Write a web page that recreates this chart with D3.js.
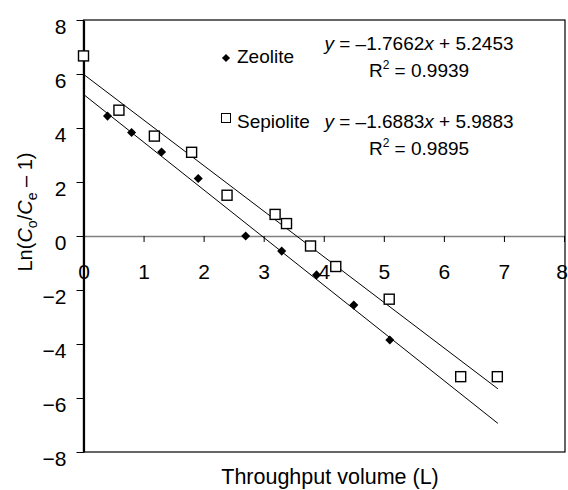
<!DOCTYPE html>
<html lang="en">
<head>
<meta charset="UTF-8">
<title>Throughput</title>
<style>
  * { margin: 0; padding: 0; }
  body { background: #fff; }
  svg text { font-family: Arial, "Liberation Sans", sans-serif; fill: #000; }
</style>
</head>
<body>
<div id="chart-area"></div>
<script src="https://cdn.jsdelivr.net/npm/d3@7"></script>
<script>
  // data
  const zeoliteX = [0.4, 0.8, 1.3, 1.91, 2.7, 3.3, 3.88, 4.5, 5.1]
  const zeoliteY = [4.44, 3.83, 3.11, 2.13, 0.0, -0.56, -1.44, -2.56, -3.85]
  const sepioliteX = [0.0, 0.59, 1.18, 1.8, 2.39, 3.19, 3.38, 3.78, 4.2, 5.09, 6.28, 6.89]
  const sepioliteY = [6.67, 4.66, 3.7, 3.1, 1.51, 0.8, 0.46, -0.37, -1.13, -2.34, -5.21, -5.21]
  const fits = [
    {name: 'Zeolite', slope: -1.7662, icept: 5.2453, r2: '0.9939'},
    {name: 'Sepiolite', slope: -1.6883, icept: 5.9883, r2: '0.9895'}
  ]
  const fitRange = [0, 6.9]
  const xTicks = [0, 1, 2, 3, 4, 5, 6, 7, 8]
  const yTicks = [-8, -6, -4, -2, 0, 2, 4, 6, 8]

  const W = 568, H = 490
  const LEFT = 83.5, RIGHT = 565, TOP = 20, BOTTOM = 452

  const svg = d3.select('#chart-area').append('svg')
    .attr('width', W).attr('height', H)

  const x = d3.scaleLinear().domain([0, 8]).range([LEFT, RIGHT - 1])
  const y = d3.scaleLinear().domain([-8, 8]).range([BOTTOM, TOP])

  // frame
  svg.append('rect')
    .attr('x', LEFT).attr('y', TOP)
    .attr('width', RIGHT - LEFT).attr('height', BOTTOM - TOP)
    .attr('fill', 'none').attr('stroke', '#000').attr('stroke-width', 1.2)

  // x axis through y = 0
  const xAxis = svg.append('g')
    .attr('transform', `translate(0, ${y(0)})`)
    .call(d3.axisBottom(x).tickValues(xTicks).tickSize(6).tickSizeOuter(0).tickFormat(d3.format('d')))
  xAxis.select('.domain').attr('stroke', '#808080').attr('stroke-width', 1.5)
  xAxis.selectAll('.tick line').attr('stroke', '#000')
  xAxis.selectAll('.tick text')
    .attr('y', 43).attr('dy', 0)
    .attr('font-size', '21px')
  // last label sits against the right edge
  xAxis.selectAll('.tick text').filter(d => d === 8)
    .attr('text-anchor', 'end').attr('x', 3.5)

  // y axis
  const yAxis = svg.append('g')
    .attr('transform', `translate(${LEFT}, 0)`)
    .call(d3.axisLeft(y).tickValues(yTicks).tickSize(7).tickSizeOuter(0).tickFormat(d3.format('d')))
  yAxis.select('.domain').attr('stroke', '#000').attr('stroke-width', 2.2)
  yAxis.selectAll('.tick text')
    .attr('x', -17).attr('dy', '0.62em')
    .attr('font-size', '21px')

  // trendlines
  const line = d3.line().x(d => x(d[0])).y(d => y(d[1]))
  fits.forEach(f => {
    svg.append('path')
      .datum(fitRange.map(v => [v, f.slope * v + f.icept]))
      .attr('d', line)
      .attr('fill', 'none').attr('stroke', '#000').attr('stroke-width', 1)
  })

  // markers
  const diamond = d3.symbol().type(d3.symbolDiamond2).size(52)
  svg.append('g').selectAll('path')
    .data(d3.zip(zeoliteX, zeoliteY))
    .join('path')
    .attr('transform', d => `translate(${x(d[0])}, ${y(d[1])})`)
    .attr('d', diamond)
    .attr('fill', '#000')

  const S = 10
  svg.append('g').selectAll('rect')
    .data(d3.zip(sepioliteX, sepioliteY))
    .join('rect')
    .attr('x', d => x(d[0]) - S / 2).attr('y', d => y(d[1]) - S / 2)
    .attr('width', S).attr('height', S)
    .attr('fill', '#fff').attr('stroke', '#000').attr('stroke-width', 1.4)

  // legend + equations
  const fmt = v => v.toFixed(4)
  const nameY = [63, 128]
  const eqY = [50, 128]
  const r2Y = [77, 155]
  fits.forEach((f, i) => {
    if (i === 0) {
      svg.append('path')
        .attr('transform', `translate(226, 58)`)
        .attr('d', d3.symbol().type(d3.symbolDiamond2).size(42))
        .attr('fill', '#000')
    } else {
      svg.append('rect')
        .attr('x', 221.5).attr('y', 113.5).attr('width', 9).attr('height', 9)
        .attr('fill', '#fff').attr('stroke', '#000').attr('stroke-width', 1)
    }
    svg.append('text').attr('x', 237).attr('y', nameY[i])
      .attr('font-size', '19px').text(f.name)

    const eq = svg.append('text').attr('x', 419).attr('y', eqY[i])
      .attr('font-size', '19px').attr('text-anchor', 'middle')
    eq.append('tspan').attr('font-style', 'italic').text('y')
    eq.append('tspan').text(` = \u2013${fmt(-f.slope)}`)
    eq.append('tspan').attr('font-style', 'italic').text('x')
    eq.append('tspan').text(` + ${fmt(f.icept)}`)

    const r = svg.append('text').attr('x', 419).attr('y', r2Y[i])
      .attr('font-size', '19px').attr('text-anchor', 'middle')
    r.append('tspan').text('R')
    r.append('tspan').attr('font-size', '12px').attr('dy', -8).text('2')
    r.append('tspan').attr('dy', 8).text(` = ${f.r2}`)
  })

  // axis titles
  svg.append('text')
    .attr('x', 330).attr('y', 484)
    .attr('font-size', '21.5px').attr('text-anchor', 'middle')
    .text('Throughput volume (L)')

  const yl = svg.append('text')
    .attr('transform', `translate(32, 212) rotate(-90)`)
    .attr('font-size', '20px').attr('text-anchor', 'middle')
  yl.append('tspan').text('Ln(')
  yl.append('tspan').attr('font-style', 'italic').text('C')
  yl.append('tspan').attr('font-size', '14px').attr('dy', 5).text('o')
  yl.append('tspan').attr('dy', -5).text('/')
  yl.append('tspan').attr('font-style', 'italic').text('C')
  yl.append('tspan').attr('font-size', '14px').attr('dy', 5).text('e')
  yl.append('tspan').attr('dy', -5).text(' \u2013 1)')
</script>
</body>
</html>
